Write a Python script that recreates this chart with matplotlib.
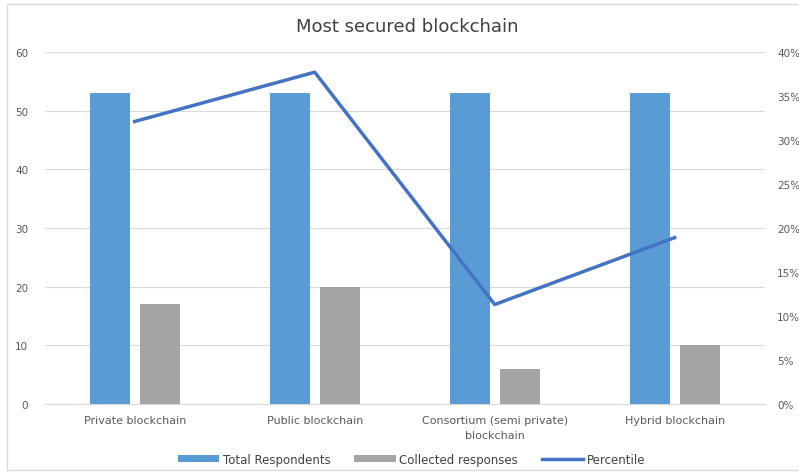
import matplotlib
matplotlib.use("Agg")
import matplotlib.pyplot as plt
import numpy as np
from matplotlib.patches import Rectangle

categories = ["Private blockchain", "Public blockchain", "Consortium (semi private)\nblockchain", "Hybrid blockchain"]
total_respondents = [53, 53, 53, 53]
collected_responses = [17, 20, 6, 10]
percentile = [0.321, 0.377, 0.113, 0.189]

fig = plt.figure(figsize=(7.99, 4.77), dpi=100)
fig.patches.append(Rectangle((0.009, 0.012), 1.2, 0.978, transform=fig.transFigure,
                             fill=False, edgecolor="#d9d9d9", linewidth=1))
ax = fig.add_axes([0.056, 0.151, 0.901, 0.738])
ax2 = ax.twinx()

x = np.arange(len(categories))
w = 0.222
off = 0.139
ax.bar(x - off, total_respondents, w, color="#5B9BD5", label="Total Respondents", zorder=2)
ax.bar(x + off, collected_responses, w, color="#A5A5A5", label="Collected responses", zorder=2)
ax2.plot(x, percentile, color="#4472C4", linewidth=2.5, label="Percentile", zorder=3)

ax.set_xlim(-0.5, 3.5)
ax.set_ylim(0, 60)
ax.set_yticks(range(0, 61, 10))
ax2.set_ylim(0, 0.4)
ax2.set_yticks(np.arange(0, 0.41, 0.05))
ax2.set_yticklabels([f"{int(round(v*100))}%" for v in np.arange(0, 0.41, 0.05)])

ax.grid(axis="y", color="#d9d9d9", linewidth=0.8, zorder=0)
ax.set_axisbelow(True)
for a in (ax, ax2):
    for s in a.spines.values():
        s.set_visible(False)
    a.tick_params(length=0, colors="#595959", labelsize=7.5)
ax.spines["bottom"].set_visible(True)
ax.spines["bottom"].set_color("#d9d9d9")
ax.tick_params(axis="y", pad=12)
ax2.tick_params(axis="y", pad=9)
ax.set_xticks(x)
ax.set_xticklabels(categories, fontsize=8, color="#595959", linespacing=1.6)
ax.tick_params(axis="x", pad=8)

fig.text(0.51, 0.944, "Most secured blockchain", ha="center", va="center", fontsize=13, color="#404040")

h1, l1 = ax.get_legend_handles_labels()
h2, l2 = ax2.get_legend_handles_labels()
fig.legend(h1 + h2, l1 + l2, loc="center", bbox_to_anchor=(0.515, 0.035), ncol=3, frameon=False,
           fontsize=8.5, labelcolor="#404040", handlelength=3.5, handleheight=0.6, columnspacing=2.0,
           handletextpad=0.3)

fig.savefig("out.png", dpi=100)
